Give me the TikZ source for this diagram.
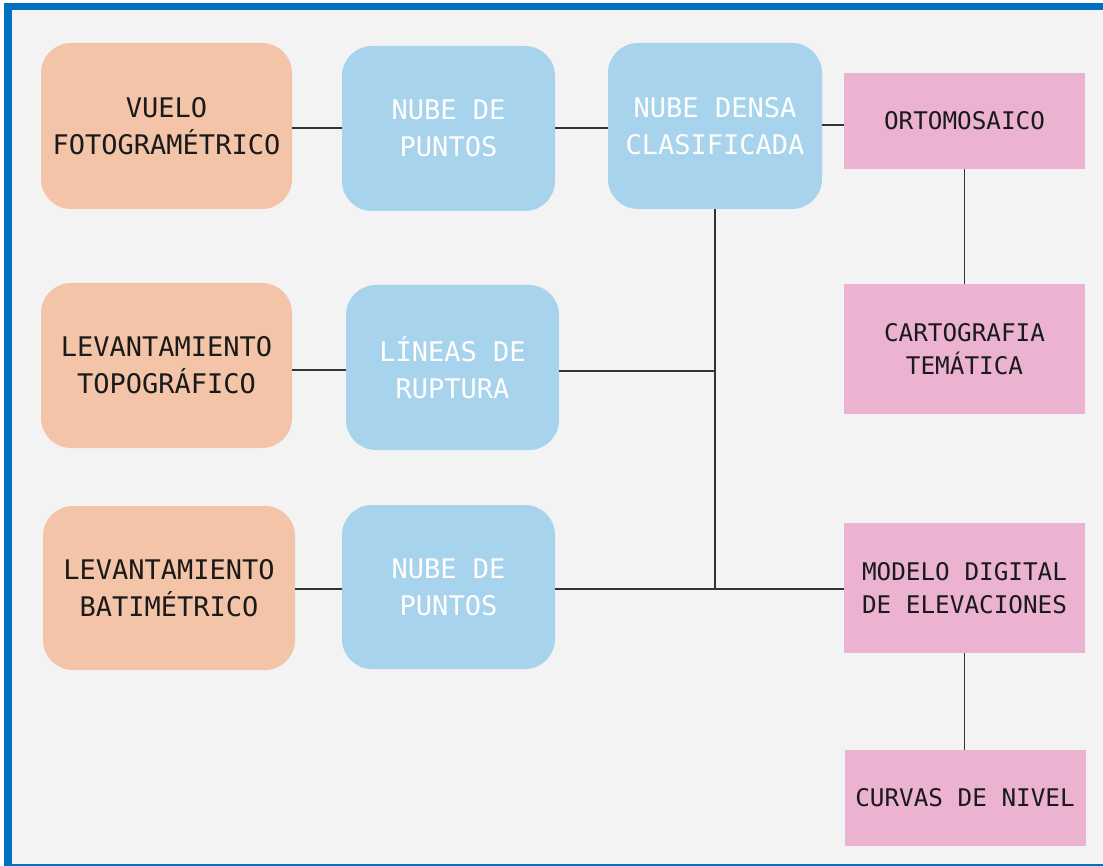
\documentclass[tikz,border=0pt]{standalone}
\usepackage{fontspec}
\setmonofont{DejaVu Sans Mono}
\definecolor{peachc}{HTML}{F4C4A8}
\definecolor{bluec}{HTML}{A7D3EC}
\definecolor{pinkc}{HTML}{EBB2D2}
\definecolor{bgc}{HTML}{F3F3F3}
\definecolor{framec}{HTML}{0070C0}
\definecolor{txtc}{HTML}{1A1A1A}
\definecolor{linec}{HTML}{333333}
\begin{document}
\begin{tikzpicture}[x=1pt,y=-1pt,
  base/.style={inner sep=0pt, align=center, font=\ttfamily\fontsize{27}{37}\selectfont},
  peachbox/.style={base, fill=peachc, text=txtc, rounded corners=30pt},
  bluebox/.style={base, fill=bluec, text=white, rounded corners=30pt},
  pinkbox/.style={base, fill=pinkc, text=txtc, font=\ttfamily\fontsize{24.3}{33}\selectfont},
  conn/.style={draw=linec, line width=1.8pt}]
\useasboundingbox (0,0) rectangle (1103,866);
\fill[white!97!bgc] (0,0) rectangle (1103,866);
\fill[bgc] (8,6.5) rectangle (1110,868);
\draw[framec, line width=7.5pt] (8,6.5) rectangle (1110,868);

% row 1
\node[peachbox, minimum width=251pt, minimum height=166pt] (vuelo) at (166.5,126) {VUELO\\FOTOGRAMÉTRICO};
\node[bluebox, minimum width=213pt, minimum height=165pt] (nube1) at (448.5,128.5) {NUBE DE\\PUNTOS};
\node[bluebox, minimum width=214pt, minimum height=166pt] (densa) at (715,126) {NUBE DENSA\\CLASIFICADA};
\node[pinkbox, minimum width=241pt, minimum height=96pt] (orto) at (964.5,121) {ORTOMOSAICO};
% row 2
\node[peachbox, minimum width=251pt, minimum height=165pt] (topo) at (166.5,365.5) {LEVANTAMIENTO\\TOPOGRÁFICO};
\node[bluebox, minimum width=213pt, minimum height=165pt] (lineas) at (452.5,367.5) {LÍNEAS DE\\RUPTURA};
\node[pinkbox, minimum width=241pt, minimum height=130pt] (carto) at (964.5,349) {CARTOGRAFIA\\TEMÁTICA};
% row 3
\node[peachbox, minimum width=252pt, minimum height=164pt] (bati) at (169,588) {LEVANTAMIENTO\\BATIMÉTRICO};
\node[bluebox, minimum width=213pt, minimum height=164pt] (nube2) at (448.5,587) {NUBE DE\\PUNTOS};
\node[pinkbox, minimum width=241pt, minimum height=130pt] (modelo) at (964.5,588) {MODELO DIGITAL\\DE ELEVACIONES};
\node[pinkbox, minimum width=241pt, minimum height=96pt] (curvas) at (965,798) {CURVAS DE NIVEL};

% connectors
\draw[conn] (vuelo.east |- 0,128) -- (nube1.west |- 0,128);
\draw[conn] (nube1.east |- 0,128) -- (densa.west |- 0,128);
\draw[conn] (densa.east |- 0,125) -- (orto.west |- 0,125);
\draw[conn] (orto.south) -- (carto.north);
\draw[conn] (topo.east |- 0,370) -- (lineas.west |- 0,370);
\draw[conn] (lineas.east |- 0,371) -- (densa.south |- 0,371);
\draw[conn] (bati.east |- 0,589) -- (nube2.west |- 0,589);
\draw[conn] (nube2.east |- 0,589) -- (modelo.west |- 0,589);
\draw[conn] (densa.south) -- (densa.south |- 0,589);
\draw[conn] (modelo.south) -- (modelo.south |- curvas.north);
\end{tikzpicture}
\end{document}
